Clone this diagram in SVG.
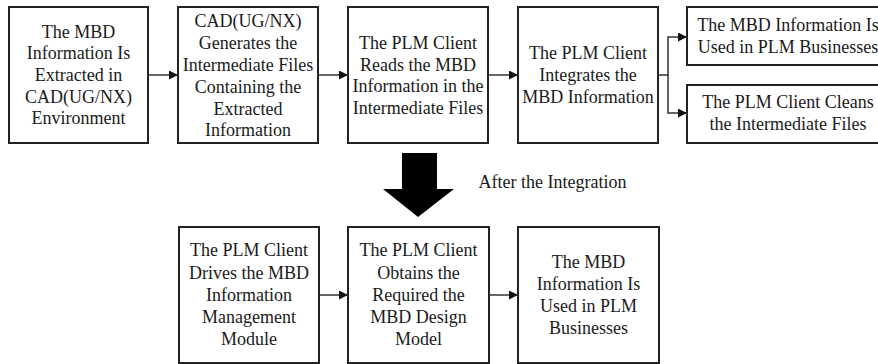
<svg xmlns="http://www.w3.org/2000/svg" width="878" height="364" viewBox="0 0 878 364">
  <style>
    .box { fill: #fff; stroke: #222; stroke-width: 2; }
    .lbl { font-family: "Liberation Serif", "Times New Roman", serif; font-size: 18px; fill: #1a1a1a; text-anchor: middle; }
    .conn { fill: none; stroke: #333; stroke-width: 1.5; }
  </style>
  <defs>
    <marker id="arrowhead" markerWidth="10" markerHeight="10" refX="9" refY="4.5" orient="auto" markerUnits="userSpaceOnUse">
      <path d="M0,0 L9,4.5 L0,9 Z" fill="#111"/>
    </marker>
  </defs>
  <rect width="878" height="364" fill="#fff"/>

  <g id="node-extract">
    <rect class="box" x="9" y="7" width="139" height="136"/>
    <text class="lbl" x="78.5" y="37.5">The MBD</text>
    <text class="lbl" x="78.5" y="59">Information Is</text>
    <text class="lbl" x="78.5" y="81">Extracted in</text>
    <text class="lbl" x="78.5" y="102.5">CAD(UG/NX)</text>
    <text class="lbl" x="78.5" y="124">Environment</text>
  </g>

  <g id="node-generate">
    <rect class="box" x="178" y="7" width="140" height="136"/>
    <text class="lbl" x="248" y="27">CAD(UG/NX)</text>
    <text class="lbl" x="248" y="49">Generates the</text>
    <text class="lbl" x="248" y="71">Intermediate Files</text>
    <text class="lbl" x="248" y="93">Containing the</text>
    <text class="lbl" x="248" y="114.5">Extracted</text>
    <text class="lbl" x="248" y="136">Information</text>
  </g>

  <g id="node-read">
    <rect class="box" x="348" y="7" width="140" height="136"/>
    <text class="lbl" x="418" y="49">The PLM Client</text>
    <text class="lbl" x="418" y="70.5">Reads the MBD</text>
    <text class="lbl" x="418" y="92">Information in the</text>
    <text class="lbl" x="418" y="114">Intermediate Files</text>
  </g>

  <g id="node-integrate">
    <rect class="box" x="518" y="7" width="140" height="136"/>
    <text class="lbl" x="588" y="59">The PLM Client</text>
    <text class="lbl" x="588" y="81">Integrates the</text>
    <text class="lbl" x="588" y="103">MBD Information</text>
  </g>

  <g id="node-used-top">
    <rect class="box" x="687" y="7" width="200" height="58"/>
    <text class="lbl" x="788" y="31">The MBD Information Is</text>
    <text class="lbl" x="788" y="53">Used in PLM Businesses</text>
  </g>

  <g id="node-clean">
    <rect class="box" x="687" y="85" width="200" height="58"/>
    <text class="lbl" x="788" y="108">The PLM Client Cleans</text>
    <text class="lbl" x="788" y="130">the Intermediate Files</text>
  </g>

  <g id="node-transition">
    <path d="M402,153 H437 V189 H454 L418,217 L383,189 H402 Z" fill="#000"/>
    <text class="lbl" x="552.5" y="188">After the Integration</text>
  </g>

  <g id="node-drive">
    <rect class="box" x="179" y="227" width="140" height="136"/>
    <text class="lbl" x="249" y="256">The PLM Client</text>
    <text class="lbl" x="249" y="278.5">Drives the MBD</text>
    <text class="lbl" x="249" y="300.5">Information</text>
    <text class="lbl" x="249" y="322.5">Management</text>
    <text class="lbl" x="249" y="345">Module</text>
  </g>

  <g id="node-obtain">
    <rect class="box" x="348" y="227" width="141" height="136"/>
    <text class="lbl" x="418.5" y="256">The PLM Client</text>
    <text class="lbl" x="418.5" y="278.5">Obtains the</text>
    <text class="lbl" x="418.5" y="300.5">Required the</text>
    <text class="lbl" x="418.5" y="322.5">MBD Design</text>
    <text class="lbl" x="418.5" y="345">Model</text>
  </g>

  <g id="node-used-bottom">
    <rect class="box" x="518" y="227" width="141" height="136"/>
    <text class="lbl" x="588.5" y="268">The MBD</text>
    <text class="lbl" x="588.5" y="290">Information Is</text>
    <text class="lbl" x="588.5" y="312">Used in PLM</text>
    <text class="lbl" x="588.5" y="334">Businesses</text>
  </g>

  <g id="connectors">
    <line class="conn" x1="148" y1="75" x2="178" y2="75" marker-end="url(#arrowhead)"/>
    <line class="conn" x1="318" y1="75" x2="348" y2="75" marker-end="url(#arrowhead)"/>
    <line class="conn" x1="488" y1="75" x2="518" y2="75" marker-end="url(#arrowhead)"/>
    <polyline class="conn" points="658,75 668,75 668,37 687,37" marker-end="url(#arrowhead)"/>
    <polyline class="conn" points="668,75 668,113 687,113" marker-end="url(#arrowhead)"/>
    <line class="conn" x1="319" y1="295" x2="348" y2="295" marker-end="url(#arrowhead)"/>
    <line class="conn" x1="489" y1="295" x2="518" y2="295" marker-end="url(#arrowhead)"/>
  </g>
</svg>
